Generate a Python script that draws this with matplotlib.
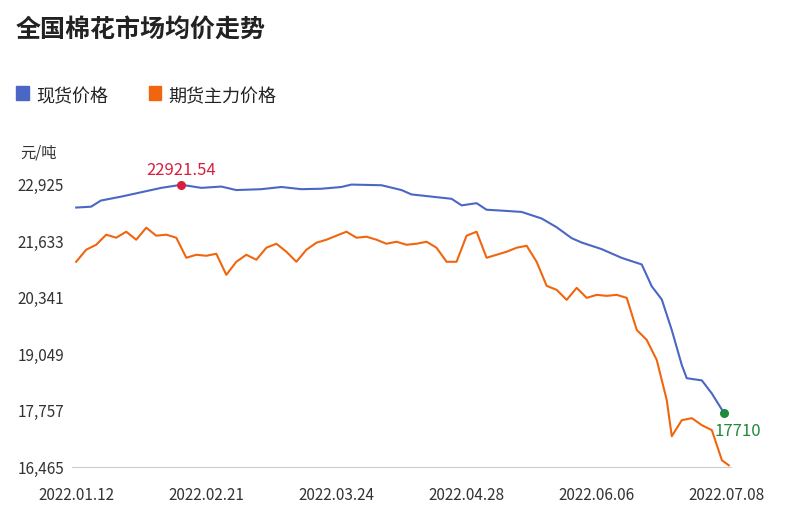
import matplotlib.pyplot as plt
import numpy as np

plt.rcParams['font.family'] = ['Noto Sans CJK SC', 'DejaVu Sans']

tick_labels = ["2022.01.12", "2022.02.21", "2022.03.24", "2022.04.28", "2022.06.06", "2022.07.08"]
y_ticks = [16465, 17757, 19049, 20341, 21633, 22925]

# x in tick units (0 = 2022.01.12, 5 = 2022.07.08)
spot_x = [0, .115, .19, .346, .5, .654, .808, .962, 1.115, 1.23, 1.423, 1.577, 1.73, 1.885, 2.038, 2.115,
          2.346, 2.5, 2.577, 2.731, 2.885, 2.962, 3.077, 3.154, 3.269, 3.423, 3.577, 3.692, 3.808, 3.885,
          4.038, 4.192, 4.346, 4.423, 4.5, 4.577, 4.654, 4.692, 4.808, 4.885, 4.977]
spot = [22400, 22420, 22560, 22650, 22750, 22850, 22921, 22850, 22880, 22800, 22820, 22870, 22820, 22830,
        22870, 22925, 22910, 22800, 22700, 22650, 22600, 22450, 22500, 22350, 22330, 22300, 22150, 21950,
        21700, 21600, 21450, 21250, 21100, 20600, 20300, 19600, 18800, 18500, 18450, 18150, 17710]

fut_x = list(np.arange(60) * 10 / 130) + [4.577, 4.654, 4.731, 4.808, 4.885, 4.962, 5.015]
fut = [21161, 21436, 21550, 21780, 21711, 21848, 21665, 21940, 21757, 21780, 21711, 21253, 21321, 21298,
       21344, 20863, 21161, 21321, 21207, 21482, 21573, 21390, 21161, 21436, 21596, 21665, 21757, 21848,
       21711, 21734, 21665, 21573, 21619, 21550, 21573, 21619, 21482, 21161, 21161, 21757, 21848, 21253,
       21321, 21390, 21482, 21527, 21161, 20611, 20519, 20290, 20565, 20336, 20405, 20382, 20405, 20336,
       19603, 19374, 18916, 17999, 17174, 17541, 17587, 17427, 17312, 16625, 16510]

fig = plt.figure(figsize=(8.03, 5.25), dpi=100)
ax = fig.add_axes([0.09, 0.11, 0.82, 0.578])
ax.plot(spot_x, spot, color='#4a67c6', lw=1.5)
ax.plot(fut_x, fut, color='#f0660f', lw=1.5)
ax.scatter([spot_x[6]], [spot[6]], color='#d81e3c', s=30, zorder=3)
ax.annotate("22921.54", (spot_x[6], spot[6]), xytext=(0, 7), textcoords='offset points',
            ha='center', color='#d81e3c', fontsize=12)
ax.scatter([spot_x[-1]], [spot[-1]], color='#1e8a3c', s=30, zorder=3)
ax.annotate("17710", (spot_x[-1], spot[-1]), xytext=(10, -17), textcoords='offset points',
            ha='center', color='#1e8a3c', fontsize=12)

ax.set_xlim(-0.03, 5.03)
ax.set_ylim(16465, 23400)
ax.set_yticks(y_ticks)
ax.set_yticklabels([f"{v:,}" for v in y_ticks])
ax.set_xticks(range(6))
ax.set_xticklabels(tick_labels)
ax.tick_params(length=0, labelsize=11, colors='#333333')
ax.tick_params(axis='y', pad=6)
ax.tick_params(axis='x', pad=14)
for s in ['top', 'right', 'left']:
    ax.spines[s].set_visible(False)
ax.spines['bottom'].set_color('#cccccc')

fig.text(0.02, 0.93, "全国棉花市场均价走势", fontsize=18, fontweight='bold', color='#222222')
fig.text(0.025, 0.7, "元/吨", fontsize=11, color='#333333')
fig.patches.append(plt.Rectangle((0.02, 0.81), 0.016, 0.026, color='#4a67c6', transform=fig.transFigure))
fig.text(0.045, 0.805, "现货价格", fontsize=13, color='#222222')
fig.patches.append(plt.Rectangle((0.185, 0.81), 0.016, 0.026, color='#f0660f', transform=fig.transFigure))
fig.text(0.21, 0.805, "期货主力价格", fontsize=13, color='#222222')

fig.savefig("out.png")
